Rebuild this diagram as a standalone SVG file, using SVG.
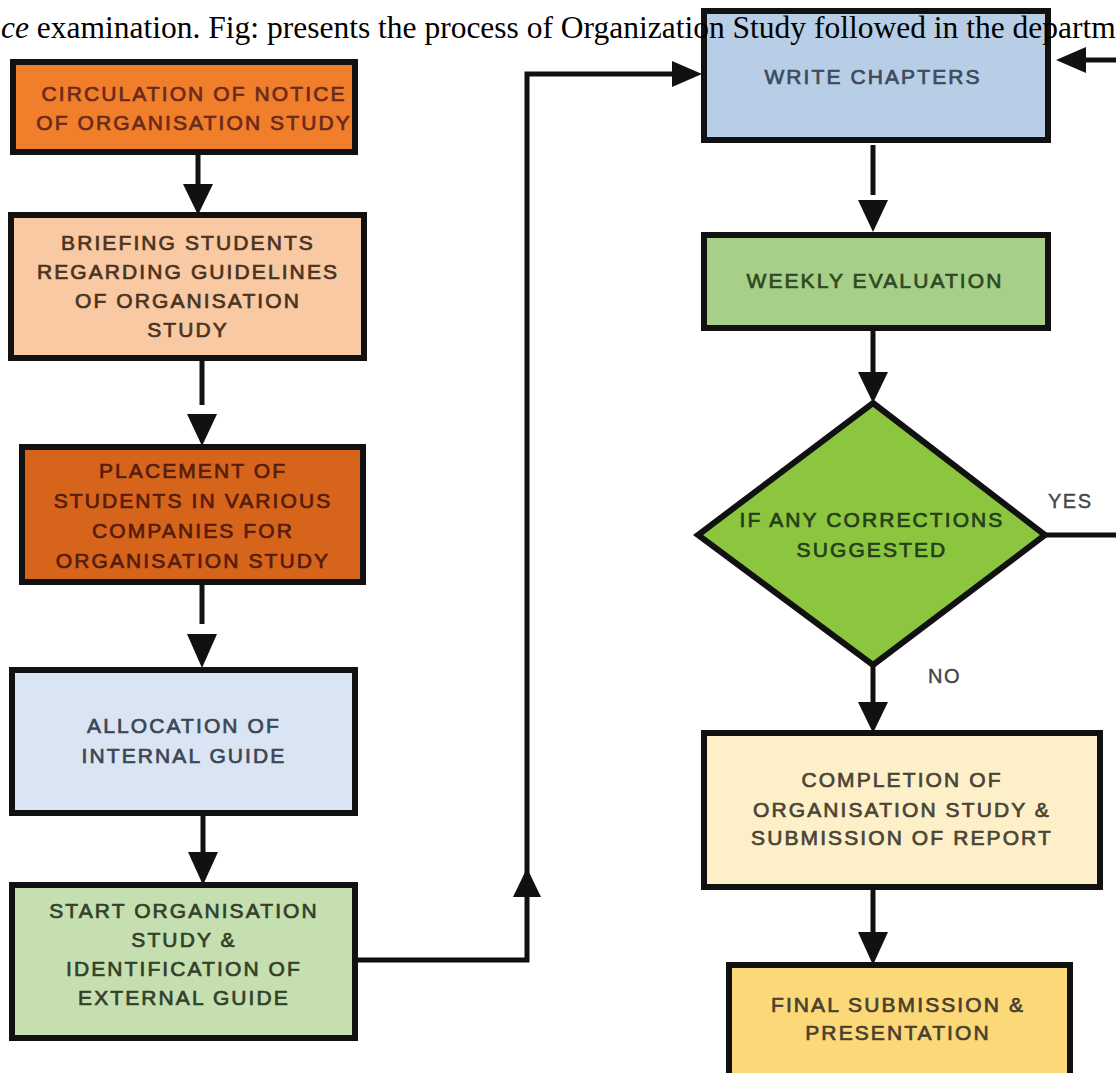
<svg xmlns="http://www.w3.org/2000/svg" width="1116" height="1073" viewBox="0 0 1116 1073">
  <style>
    .box { stroke: #111; stroke-width: 6; }
    .lbl { font-family: "Liberation Sans", Arial, sans-serif; font-size: 21px; letter-spacing: 2.1px; text-anchor: middle; stroke-width: 0.7px; }
    .tag { font-family: "Liberation Sans", Arial, sans-serif; font-size: 20px; letter-spacing: 1.5px; fill: #444; stroke: #444; stroke-width: 0.4px; }
    .line { fill: none; stroke: #111; stroke-width: 5; }
    .head { fill: #111; }
    .para { font-family: "Liberation Serif", "Times New Roman", serif; font-size: 31.5px; fill: #000; }
  </style>

  <rect width="1116" height="1073" fill="#fff"/>

  <!-- connectors -->
  <g id="connectors">
    <!-- left column -->
    <line class="line" x1="198" y1="152" x2="198" y2="188"/>
    <polygon class="head" points="183,184 213,184 198,215"/>
    <line class="line" x1="202" y1="358" x2="202" y2="405"/>
    <polygon class="head" points="187,414 217,414 202,446"/>
    <line class="line" x1="202" y1="582" x2="202" y2="624"/>
    <polygon class="head" points="187,634 217,634 202,668"/>
    <line class="line" x1="203" y1="813" x2="203" y2="852"/>
    <polygon class="head" points="188,852 218,852 203,885"/>

    <!-- start -> write chapters -->
    <path class="line" d="M355,960 H527 V74 H676"/>
    <polygon class="head" points="672,61 672,87 702,74"/>
    <polygon class="head" points="513,897 541,897 527,868"/>

    <!-- right column -->
    <line class="line" x1="873" y1="145" x2="873" y2="195"/>
    <polygon class="head" points="858,200 888,200 873,232"/>
    <line class="line" x1="873" y1="328" x2="873" y2="376"/>
    <polygon class="head" points="858,372 888,372 873,403"/>
    <line class="line" x1="873" y1="665" x2="873" y2="706"/>
    <polygon class="head" points="858,702 888,702 873,733"/>
    <line class="line" x1="873" y1="887" x2="873" y2="936"/>
    <polygon class="head" points="858,932 888,932 873,965"/>

    <!-- YES loop back to write chapters -->
    <path class="line" d="M1045,535 H1130 V60 H1082"/>
    <polygon class="head" points="1086,47 1086,73 1056,60"/>
  </g>

  <!-- nodes -->
  <g id="n-circulation">
    <rect class="box" x="13" y="62" width="342" height="90" fill="#F07E2B"/>
    <text class="lbl" fill="#6B2A1A" stroke="#6B2A1A"><tspan x="194" y="101">CIRCULATION OF NOTICE</tspan><tspan x="194" y="130">OF ORGANISATION STUDY</tspan></text>
  </g>

  <g id="n-briefing">
    <rect class="box" x="11" y="215" width="353" height="143" fill="#F9C9A3"/>
    <text class="lbl" fill="#4A3322" stroke="#4A3322"><tspan x="188" y="250">BRIEFING STUDENTS</tspan><tspan x="188" y="279">REGARDING GUIDELINES</tspan><tspan x="188" y="308">OF ORGANISATION</tspan><tspan x="188" y="337">STUDY</tspan></text>
  </g>

  <g id="n-placement">
    <rect class="box" x="22" y="447" width="341" height="135" fill="#D6641A"/>
    <text class="lbl" fill="#561C0C" stroke="#561C0C"><tspan x="193" y="478">PLACEMENT OF</tspan><tspan x="193" y="508">STUDENTS IN VARIOUS</tspan><tspan x="193" y="538">COMPANIES FOR</tspan><tspan x="193" y="568">ORGANISATION STUDY</tspan></text>
  </g>

  <g id="n-allocation">
    <rect class="box" x="12" y="670" width="343" height="143" fill="#D9E5F2"/>
    <text class="lbl" fill="#3C4656" stroke="#3C4656"><tspan x="184" y="733">ALLOCATION OF</tspan><tspan x="184" y="763">INTERNAL GUIDE</tspan></text>
  </g>

  <g id="n-start">
    <rect class="box" x="12" y="885" width="343" height="153" fill="#C6DFB0"/>
    <text class="lbl" fill="#33402A" stroke="#33402A"><tspan x="184" y="918">START ORGANISATION</tspan><tspan x="184" y="947">STUDY &amp;</tspan><tspan x="184" y="976">IDENTIFICATION OF</tspan><tspan x="184" y="1005">EXTERNAL GUIDE</tspan></text>
  </g>

  <g id="n-write">
    <rect class="box" x="704" y="11" width="344" height="129" fill="#B8CDE6"/>
    <text class="lbl" fill="#3D4A5C" stroke="#3D4A5C"><tspan x="873" y="84">WRITE CHAPTERS</tspan></text>
  </g>

  <g id="n-weekly">
    <rect class="box" x="704" y="235" width="344" height="93" fill="#A7CF8A"/>
    <text class="lbl" fill="#2E4A22" stroke="#2E4A22"><tspan x="875" y="288">WEEKLY EVALUATION</tspan></text>
  </g>

  <g id="n-decision">
    <polygon class="box" points="873,403 1045,535 873,665 698,535" fill="#8CC63E"/>
    <text class="lbl" fill="#24401A" stroke="#24401A"><tspan x="872" y="527">IF ANY CORRECTIONS</tspan><tspan x="872" y="557">SUGGESTED</tspan></text>
  </g>
  <text class="tag" x="1048" y="508">YES</text>
  <text class="tag" x="928" y="683">NO</text>

  <g id="n-completion">
    <rect class="box" x="704" y="733" width="396" height="154" fill="#FDF0C8"/>
    <text class="lbl" fill="#4A4436" stroke="#4A4436"><tspan x="902" y="787">COMPLETION OF</tspan><tspan x="902" y="817">ORGANISATION STUDY &amp;</tspan><tspan x="902" y="845">SUBMISSION OF REPORT</tspan></text>
  </g>

  <g id="n-final">
    <rect class="box" x="729" y="965" width="341" height="130" fill="#FBD978"/>
    <text class="lbl" fill="#4A4030" stroke="#4A4030"><tspan x="898" y="1012">FINAL SUBMISSION &amp;</tspan><tspan x="898" y="1040">PRESENTATION</tspan></text>
  </g>

  <!-- running text line printed across the top -->
  <text class="para" x="1" y="38"><tspan font-style="italic">ce</tspan> examination. Fig: presents the process of Organization Study followed in the departm</text>
</svg>
